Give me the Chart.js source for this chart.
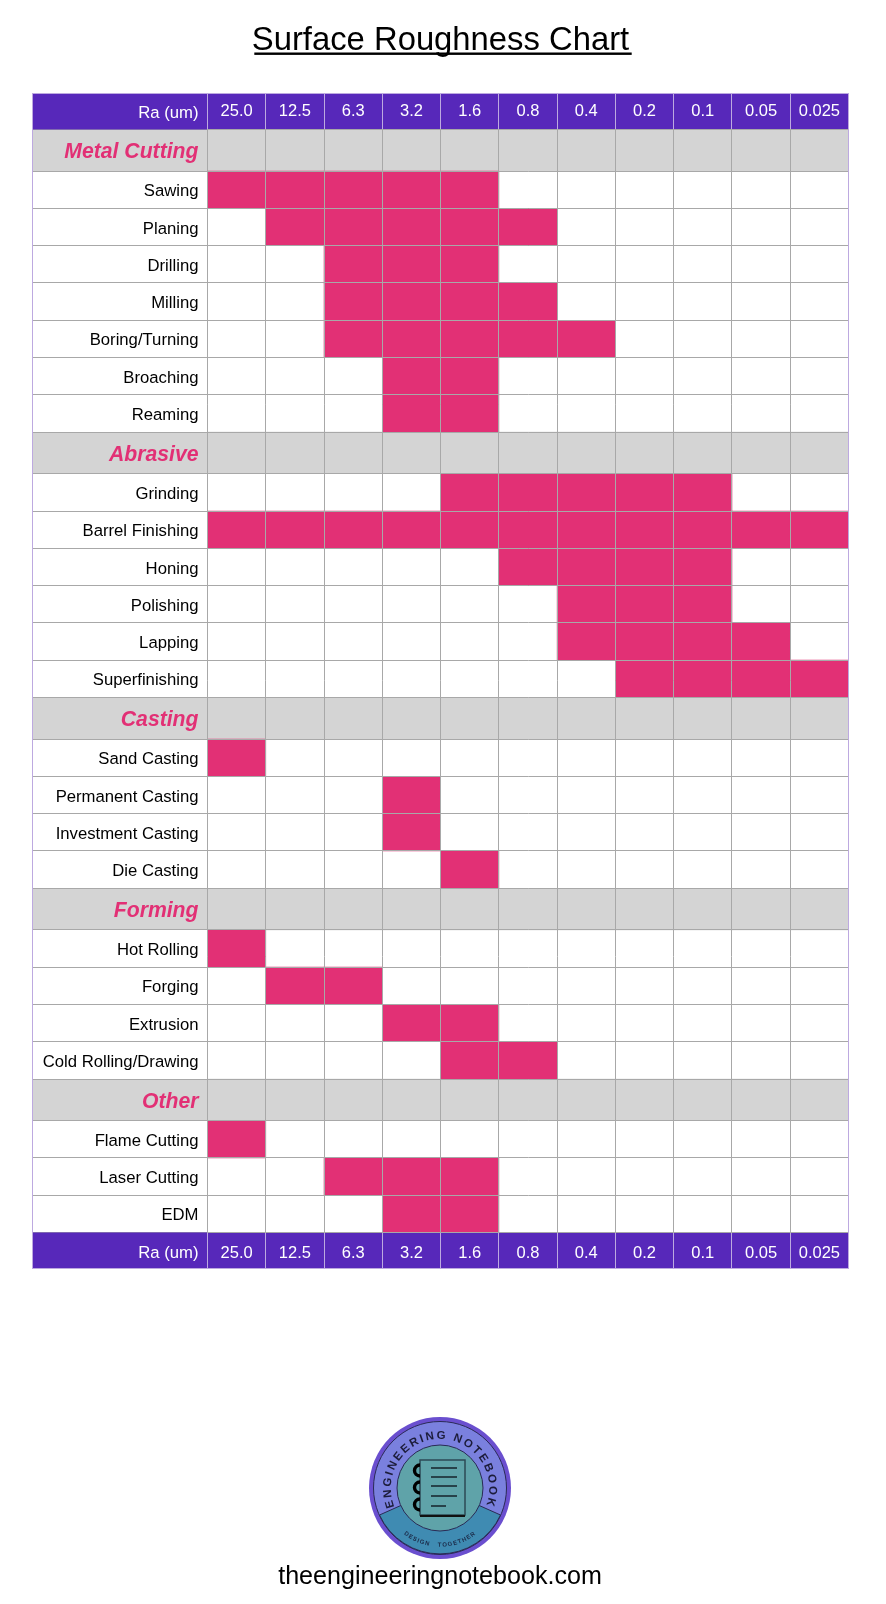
<!DOCTYPE html>
<html>
<head>
<meta charset="utf-8">
<title>Surface Roughness Chart</title>
<script src="https://cdn.jsdelivr.net/npm/chart.js@4"></script>
<style>
  html, body { margin: 0; padding: 0; background: #fff; }
  #wrap { position: relative; width: 886px; height: 1604px; overflow: hidden; font-family: "Liberation Sans", Arial, sans-serif; }
  #roughChart { position: absolute; left: 0; top: 0; }
  #logo { position: absolute; left: 360px; top: 1408px; }
  #site { position: absolute; left: 0; width: 880px; top: 1558.5px; text-align: center; font-size: 25.1px; line-height: 32px; color: #000; }
</style>
</head>
<body>
<div id="wrap">
  <canvas id="roughChart" width="886" height="1604"></canvas>
  <svg id="logo" width="160" height="160" viewBox="-80 -80 160 160">
    <defs>
      <path id="arcTop" d="M -45 20 A 49.2 49.2 0 1 1 45 20"></path>
      <path id="arcBottom" d="M -54 22 A 58 58 0 0 0 54 22"></path>
    </defs>
    <circle r="71" fill="#6a4fcf"></circle>
    <circle r="66.5" fill="#7a80de" stroke="#2a2a55" stroke-width="1"></circle>
    <path d="M -60.5 27 L 0 0 L 60.5 27 A 66.5 66.5 0 0 1 -60.5 27 Z" fill="#3f8bb2" stroke="#2a2a55" stroke-width="1"></path>
    <circle r="43" fill="#5fa3a9" stroke="#2a2a55" stroke-width="1"></circle>
    <text font-size="11.5" font-weight="bold" fill="#1c1c3a" letter-spacing="2.1"><textPath href="#arcTop" startOffset="50%" text-anchor="middle">ENGINEERING NOTEBOOK</textPath></text>
    <text font-size="6" font-weight="bold" fill="#1c2c4a" letter-spacing="1"><textPath href="#arcBottom" startOffset="50%" text-anchor="middle">DESIGN &#160;&#160;TOGETHER</textPath></text>
    <rect x="-20" y="-28" width="45" height="55" fill="#5fa3a9" stroke="#2d4a55" stroke-width="1.5"></rect>
    <path d="M -20 28 H 25" stroke="#111" stroke-width="2"></path>
    <g stroke="#1a2a33" stroke-width="1.6">
      <path d="M -9 -20 H 17"></path><path d="M -9 -11 H 17"></path><path d="M -9 -2 H 17"></path><path d="M -9 8 H 17"></path><path d="M -9 18 H 6"></path>
    </g>
    <g fill="none" stroke="#000" stroke-width="3.4">
      <path d="M -20 -23 A 5.5 5.5 0 1 0 -20 -12"></path><path d="M -20 -6 A 5.5 5.5 0 1 0 -20 5"></path><path d="M -20 11 A 5.5 5.5 0 1 0 -20 22"></path>
    </g>
  </svg>
  <div id="site">theengineeringnotebook.com</div>
</div>
<script>
const raValues = ['25.0', '12.5', '6.3', '3.2', '1.6', '0.8', '0.4', '0.2', '0.1', '0.05', '0.025'];
const groupLabels = ['Metal Cutting', 'Abrasive', 'Casting', 'Forming', 'Other'];
const rowLabels = [
    'Metal Cutting', 'Sawing', 'Planing', 'Drilling', 'Milling', 'Boring/Turning', 'Broaching', 'Reaming',
    'Abrasive', 'Grinding', 'Barrel Finishing', 'Honing', 'Polishing', 'Lapping', 'Superfinishing',
    'Casting', 'Sand Casting', 'Permanent Casting', 'Investment Casting', 'Die Casting',
    'Forming', 'Hot Rolling', 'Forging', 'Extrusion', 'Cold Rolling/Drawing',
    'Other', 'Flame Cutting', 'Laser Cutting', 'EDM'
];
// roughest and finest Ra reached by each row (null for the group rows)
const rangeFrom = [
    null, '25.0', '12.5', '6.3', '6.3', '6.3', '3.2', '3.2',
    null, '1.6', '25.0', '0.8', '0.4', '0.4', '0.2',
    null, '25.0', '3.2', '3.2', '1.6',
    null, '25.0', '12.5', '3.2', '1.6',
    null, '25.0', '6.3', '3.2'
];
const rangeTo = [
    null, '1.6', '0.8', '1.6', '0.8', '0.4', '1.6', '1.6',
    null, '0.1', '0.025', '0.1', '0.1', '0.05', '0.025',
    null, '25.0', '3.2', '3.2', '1.6',
    null, '25.0', '6.3', '1.6', '0.8',
    null, '25.0', '1.6', '1.6'
];

const headerTitle = 'Ra (um)';
const fontName = '"Liberation Sans", Arial, sans-serif';
const purple = '#5728ba';
const pink = '#e23075';
const lightGray = '#d4d4d4';
const gridGray = '#a8a8a8';
const lavender = '#bda9e0';
const groupRowSize = 1.115;

// the y axis runs in row units, group rows are a bit taller
var rowEdges = [0];
rowLabels.forEach(function (label) {
    var size = groupLabels.includes(label) ? groupRowSize : 1;
    rowEdges.push(rowEdges[rowEdges.length - 1] + size);
});

var rangeCells = [];
var groupCells = [];
rowLabels.forEach(function (label, row) {
    var span = [rowEdges[row], rowEdges[row + 1]];
    if (rangeFrom[row] === null) {
        raValues.forEach(function (ra) { groupCells.push({ x: ra, y: span }); });
    } else {
        var first = raValues.indexOf(rangeFrom[row]);
        var last = raValues.indexOf(rangeTo[row]);
        for (var i = first; i <= last; i++) {
            rangeCells.push({ x: raValues[i], y: span });
        }
    }
});

function isGroupTick(c) {
    if (!c.tick) {
        return false;
    }
    var row = rowEdges.findIndex(function (edge, i) {
        return c.tick.value > edge && c.tick.value < rowEdges[i + 1];
    });
    return row >= 0 && groupLabels.includes(rowLabels[row]);
}

// same snapping chart.js uses for its grid lines
function crisp(px) {
    return Math.round(px - 0.5) + 0.5;
}

// bits of the table that sit outside the chart area: label column and purple bands
const tableFrame = {
    id: 'tableFrame',
    beforeDraw: function (chart) {
        var ctx = chart.ctx;
        var area = chart.chartArea;
        var y = chart.scales.y;
        var top = chart.scales.x;
        var bottom = chart.scales.x2;
        var left = 32.5;
        ctx.save();
        rowLabels.forEach(function (label, row) {
            if (groupLabels.includes(label)) {
                ctx.fillStyle = lightGray;
                ctx.fillRect(left, y.getPixelForValue(rowEdges[row]), area.left - left,
                    y.getPixelForValue(rowEdges[row + 1]) - y.getPixelForValue(rowEdges[row]));
            }
        });
        ctx.strokeStyle = gridGray;
        ctx.lineWidth = 1;
        rowEdges.forEach(function (edge) {
            var py = crisp(y.getPixelForValue(edge));
            ctx.beginPath();
            ctx.moveTo(left, py);
            ctx.lineTo(area.left, py);
            ctx.stroke();
        });
        ctx.fillStyle = purple;
        ctx.fillRect(left, top.top, area.right - left, top.bottom - top.top);
        ctx.fillRect(left, bottom.top, area.right - left, bottom.bottom - bottom.top);
        ctx.strokeStyle = lavender;
        var step = area.width / raValues.length;
        for (var i = 0; i < raValues.length; i++) {
            var px = crisp(top.getPixelForValue(i) - step / 2);
            ctx.beginPath();
            ctx.moveTo(px, top.top);
            ctx.lineTo(px, top.bottom);
            ctx.moveTo(px, bottom.top);
            ctx.lineTo(px, bottom.bottom);
            ctx.stroke();
        }
        ctx.restore();
    },
    afterDraw: function (chart) {
        var ctx = chart.ctx;
        var area = chart.chartArea;
        var top = chart.scales.x;
        var bottom = chart.scales.x2;
        var left = 32.5;
        ctx.save();
        ctx.strokeStyle = lavender;
        ctx.lineWidth = 1;
        ctx.strokeRect(left, crisp(top.top), crisp(area.right) - left, crisp(bottom.bottom) - crisp(top.top));
        ctx.fillStyle = '#ffffff';
        ctx.font = '16.7px ' + fontName;
        ctx.textAlign = 'right';
        ctx.textBaseline = 'middle';
        ctx.fillText(headerTitle, area.left - 9, (top.top + top.bottom) / 2 + 1.5);
        ctx.fillText(headerTitle, area.left - 9, (bottom.top + bottom.bottom) / 2 + 3);
        // title underline
        ctx.font = '32.8px ' + fontName;
        var w = ctx.measureText(chart.options.plugins.title.text).width;
        ctx.fillStyle = '#000000';
        ctx.fillRect(chart.width / 2 - w / 2, 52.5, w, 2.4);
        ctx.restore();
    }
};

function fixedHeight(scale) {
    scale.height = 35.5;
}

var ctx = document.getElementById('roughChart').getContext('2d');
new Chart(ctx, {
    type: 'bar',
    data: {
        labels: raValues,
        datasets: [
            { label: 'Group rows', data: groupCells, backgroundColor: lightGray, grouped: false, barPercentage: 1, categoryPercentage: 1, order: 2 },
            { label: 'Achievable Ra', data: rangeCells, backgroundColor: pink, grouped: false, barPercentage: 1, categoryPercentage: 1, order: 1 }
        ]
    },
    plugins: [tableFrame],
    options: {
        responsive: false,
        animation: false,
        devicePixelRatio: 1,
        layout: { padding: { left: 32.5, right: 37.5, bottom: 336 } },
        plugins: {
            legend: { display: false },
            tooltip: { enabled: false },
            title: {
                display: true,
                text: 'Surface Roughness Chart',
                color: '#000000',
                font: { family: fontName, size: 32.8, weight: 'normal', lineHeight: 1.2 },
                padding: { top: 21, bottom: 33.6 }
            }
        },
        scales: {
            x: {
                type: 'category',
                position: 'top',
                offset: true,
                afterFit: fixedHeight,
                border: { display: false },
                grid: { offset: true, color: gridGray, z: 1, drawTicks: false },
                ticks: { color: '#ffffff', font: { family: fontName, size: 16.5 }, padding: 8, maxRotation: 0, autoSkip: false }
            },
            x2: {
                type: 'category',
                position: 'bottom',
                labels: raValues,
                offset: true,
                afterFit: fixedHeight,
                border: { display: false },
                grid: { display: false, drawTicks: false },
                ticks: { color: '#ffffff', font: { family: fontName, size: 16.5 }, padding: 11, maxRotation: 0, autoSkip: false }
            },
            y: {
                type: 'linear',
                reverse: true,
                min: 0,
                max: rowEdges[rowEdges.length - 1],
                afterFit: function (scale) { scale.width = 175; },
                afterBuildTicks: function (scale) {
                    var ticks = [];
                    rowEdges.forEach(function (edge, i) {
                        ticks.push({ value: edge });
                        if (i < rowLabels.length) {
                            ticks.push({ value: (edge + rowEdges[i + 1]) / 2 });
                        }
                    });
                    scale.ticks = ticks;
                },
                border: { display: false },
                grid: {
                    z: 1,
                    drawTicks: false,
                    color: function (c) { return c.index % 2 ? 'transparent' : gridGray; }
                },
                ticks: {
                    autoSkip: false,
                    padding: 9,
                    labelOffset: 2,
                    color: function (c) { return isGroupTick(c) ? pink : '#000000'; },
                    font: function (c) {
                        return isGroupTick(c)
                            ? { family: fontName, size: 21.2, weight: 'bold', style: 'italic' }
                            : { family: fontName, size: 16.7 };
                    },
                    callback: function (value, index) {
                        return index % 2 ? rowLabels[(index - 1) / 2] : '';
                    }
                }
            }
        }
    }
});
</script>
</body>
</html>
